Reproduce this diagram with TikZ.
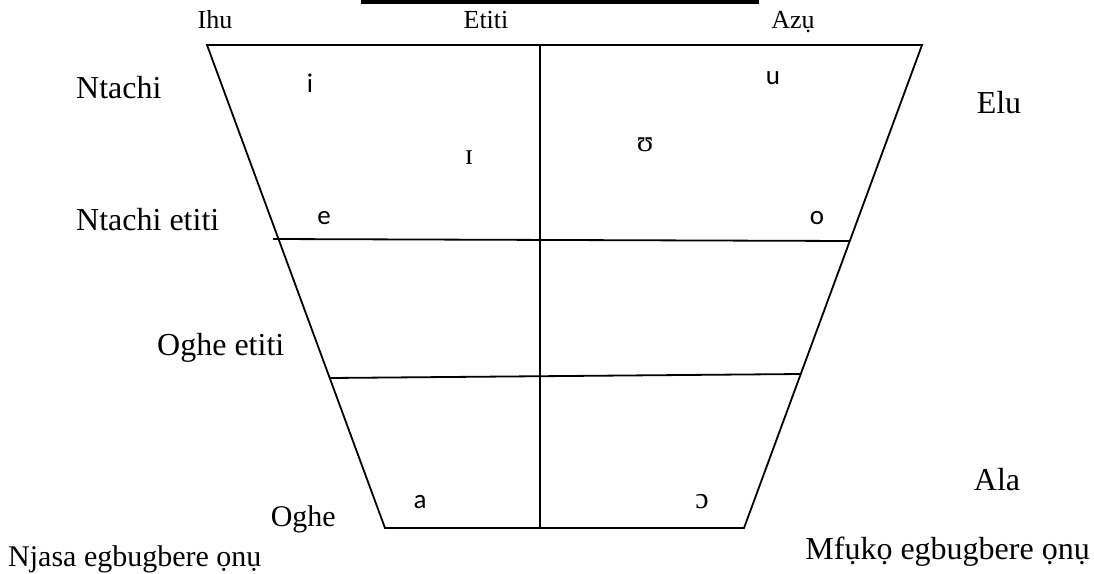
\documentclass[tikz,border=0pt]{standalone}
\usepackage{fontspec}
\setmainfont{Liberation Serif}
\newfontfamily\vsans{Carlito}
\begin{document}
\begin{tikzpicture}[x=1pt,y=-1pt,
  lbl/.style={font=\fontsize{32}{36}\selectfont, inner sep=0pt},
  botlbl/.style={font=\fontsize{30}{34}\selectfont, inner sep=0pt},
  toplbl/.style={font=\fontsize{26}{30}\selectfont, inner sep=0pt},
  vw/.style={font=\vsans\fontsize{27}{30}\selectfont, inner sep=0pt},
  ipa/.style={font=\fontsize{30}{33}\selectfont, inner sep=0pt},
  edge/.style={line width=1.8pt}]
\useasboundingbox (0,0) rectangle (1094,573);
% top bar
\fill (361,0) rectangle (759,4);
% trapezoid corners
\coordinate (tl) at (207,45);
\coordinate (tr) at (922,45);
\coordinate (bl) at (385,528);
\coordinate (br) at (744,528);
\coordinate (vt) at (540,45);
\coordinate (vb) at (540,528);
\coordinate (h1a) at (273,239);
\coordinate (h1b) at (850,241);
\coordinate (h2a) at (330,378);
\coordinate (h2b) at (801,374);
\draw[edge] (tl) -- (tr) -- (br) -- (bl) -- cycle;
\draw[edge] (vt) -- (vb);
\draw[edge] (h1a) -- (h1b);
\draw[edge] (h2a) -- (h2b);
% top labels
\node[toplbl, anchor=base] (ihu) at (215,28) {Ihu};
\node[toplbl, anchor=base] (etiti) at (486,28) {Etiti};
\node[toplbl, anchor=base] (azu) at (793,28) {Azụ};
% side labels
\node[lbl, anchor=west] (ntachi) at (76,88) {Ntachi};
\node[lbl, anchor=west] (ntachietiti) at (76,220) {Ntachi etiti};
\node[lbl, anchor=west] (ogheetiti) at (157,348) {Oghe etiti};
\node[botlbl, anchor=base east] (oghe) at (336,526) {Oghe};
\node[botlbl, anchor=base west] (njasa) at (8,566) {Njasa egbugbere ọnụ};
\node[lbl, anchor=base east] (mfuko) at (1090,559) {Mfụkọ egbugbere ọnụ};
\node[lbl, anchor=base] (elu) at (999,113) {Elu};
\node[lbl, anchor=base] (ala) at (997,490) {Ala};
% vowels
\node[vw] (vi) at (310,83) {i};
\node[vw] (vu) at (773,78) {u};
\node[ipa] (vI) at (469,158) {ɪ};
\node[ipa] (vU) at (645,145) {ʊ};
\node[vw] (ve) at (324,218) {e};
\node[vw] (vo) at (817,218) {o};
\node[vw] (va) at (420,502) {a};
\node[ipa] (vO) at (702,502) {ɔ};
\end{tikzpicture}
\end{document}
